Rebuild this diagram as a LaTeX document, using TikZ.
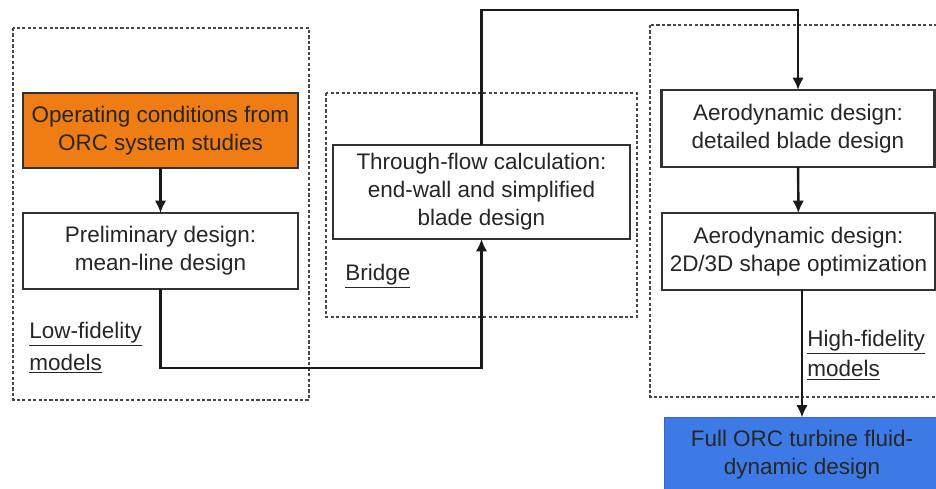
\documentclass[tikz,border=0pt]{standalone}
\usepackage{fontspec}
\setmainfont{Liberation Sans}
\usepackage{tikz}
\usetikzlibrary{arrows.meta}
\definecolor{orcorange}{RGB}{240,125,20}
\definecolor{orcblue}{RGB}{62,122,230}
\definecolor{boxgray}{RGB}{50,50,50}

\begin{document}
\begin{tikzpicture}[x=0.02cm,y=-0.02cm,
	font=\fontsize{12.8}{16}\selectfont,
	box/.style={draw=boxgray,line width=1.3pt,align=center,inner sep=0,outer sep=0,text=black!85},
	group/.style={draw=boxgray!90,line width=1.2pt,dash pattern=on 1.8pt off 1.3pt},
	flow/.style={line width=1.4pt,black!90,-{Latex[length=7pt,width=6.5pt]}},
	tag/.style={anchor=west,align=left,inner sep=0,text=black!85}]
	\clip (0,0) rectangle (936,488);
	\draw[group] (13,28) rectangle (309,400);
	\draw[group] (326,93) rectangle (637,317);
	\draw[group] (650,25) rectangle (950,397);
	\node[box,fill=orcorange,minimum width=5.5cm,minimum height=1.5cm] (1) at (160.5,130.5) {Operating conditions from\\ORC system studies};
	\node[box,fill=white,minimum width=5.5cm,minimum height=1.52cm] (2) at (160.5,251) {Preliminary design:\\mean-line design};
	\node[box,fill=white,minimum width=5.94cm,minimum height=1.88cm] (3) at (481.5,192) {Through-flow calculation:\\end-wall and simplified\\blade design};
	\node[box,fill=white,minimum width=5.46cm,minimum height=1.54cm] (4) at (798,128.5) {Aerodynamic design:\\detailed blade design};
	\node[box,fill=white,minimum width=5.46cm,minimum height=1.54cm] (5) at (798.5,251.5) {Aerodynamic design:\\2D/3D shape optimization};
	\node[box,draw=orcblue!85!black,line width=0.8pt,fill=orcblue,minimum width=5.5cm,minimum height=1.5cm] (6) at (802,455) {Full ORC turbine fluid-\\dynamic design};
	\node[tag] (low) at (29,348) {\underline{Low-fidelity}\\[2pt]\underline{models}};
	\node[tag] (bridge) at (345,276) {\underline{Bridge}};
	\node[tag] (high) at (807,355) {\underline{High-fidelity}\\[1pt]\underline{models}};
	\coordinate (lowline) at (161,368);
	\coordinate (topline) at (482,10);
	\draw[flow] (1) -- (2);
	\draw[flow] (2.south) -- (2.south |- lowline) -| (3.south);
	\draw[flow] (3.north) -- (3.north |- topline) -| (4.north);
	\draw[flow] (4) -- (5);
	\draw[flow] (5.south -| 6.north) -- (6.north);
\end{tikzpicture}
\end{document}
